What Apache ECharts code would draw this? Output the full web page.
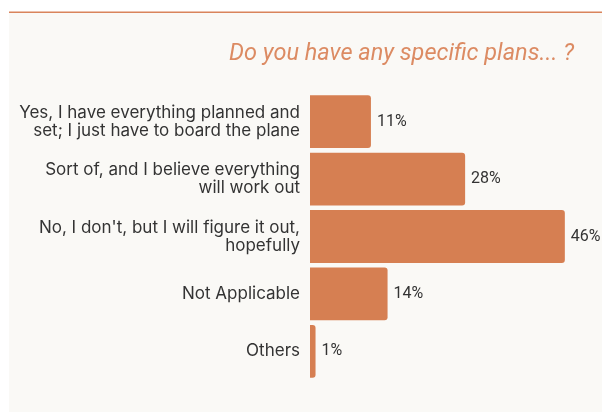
<!DOCTYPE html>
<html>
<head>
<meta charset="utf-8">
<script src="https://cdn.jsdelivr.net/npm/echarts@6/dist/echarts.min.js"></script>
<style>
  html, body { margin: 0; padding: 0; background: #ffffff; }
  #chart { width: 602px; height: 412px; }
</style>
</head>
<body>
<div id="chart"></div>
<script>
// Survey answers, top to bottom
const categories = [
  'Yes, I have everything planned and\nset; I just have to board the plane',
  'Sort of, and I believe everything\nwill work out',
  "No, I don't, but I will figure it out,\nhopefully",
  'Not Applicable',
  'Others'
];
// Share of respondents, in percent
const shares = [11, 28, 46, 14, 1];

const accent = '#d67f52';
const textDark = '#333333';

const chart = echarts.init(document.getElementById('chart'), null, { renderer: 'canvas' });

chart.setOption({
  backgroundColor: '#ffffff',
  animation: false,
  graphic: [
    // card background
    { type: 'rect', z: -10, shape: { x: 9, y: 13, width: 593, height: 399 }, style: { fill: '#faf9f6' } },
    // rule above the card
    { type: 'rect', z: -9, shape: { x: 9, y: 11.5, width: 593, height: 1.6 }, style: { fill: '#d9845c' } }
  ],
  title: {
    text: 'Do you have any specific plans... ?',
    right: 23,
    top: 38,
    textStyle: {
      fontFamily: 'Roboto',
      fontStyle: 'italic',
      fontWeight: 'normal',
      fontSize: 23.5,
      color: '#dc8b63'
    }
  },
  grid: { left: 310, right: 15, top: 93, bottom: 32, containLabel: false },
  xAxis: {
    type: 'value',
    min: 0,
    max: 50,
    show: false
  },
  yAxis: {
    type: 'category',
    data: categories,
    inverse: true,
    axisLine: { show: false },
    axisTick: { show: false },
    axisLabel: {
      margin: 10,
      color: textDark,
      fontFamily: 'Inter',
      fontSize: 17,
      lineHeight: 18,
      align: 'right'
    }
  },
  series: [{
    type: 'bar',
    data: shares,
    barCategoryGap: '8%',
    itemStyle: { color: accent, borderRadius: [0, 3, 3, 0] },
    label: {
      show: true,
      position: 'right',
      distance: 6,
      formatter: '{c}%',
      color: textDark,
      fontFamily: 'Roboto',
      fontSize: 16
    }
  }]
});
</script>
</body>
</html>
